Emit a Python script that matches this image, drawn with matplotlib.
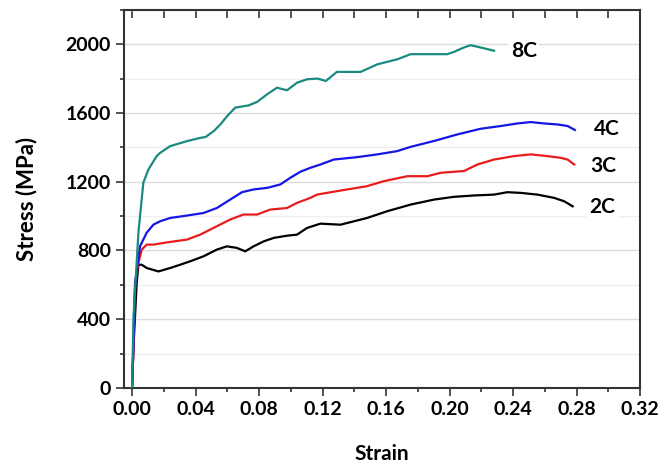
import matplotlib.pyplot as plt
from matplotlib.ticker import MultipleLocator

plt.rcParams['font.family'] = ['Lato', 'DejaVu Sans']
plt.rcParams['font.weight'] = 'bold'

# 8C
strain_8c = [0.0, 0.0009, 0.0040, 0.0071, 0.0103, 0.0155, 0.0177, 0.0240, 0.0345,
             0.0429, 0.0463, 0.0515, 0.0557, 0.0599, 0.0650, 0.0734, 0.0787, 0.0850,
             0.0913, 0.0976, 0.1039, 0.1102, 0.1170, 0.1220, 0.1290, 0.1440, 0.1545,
             0.1670, 0.1755, 0.1985, 0.2027, 0.2090, 0.2132, 0.2195, 0.2280]
stress_8c = [0, 416, 904, 1195, 1271, 1349, 1368, 1407, 1436,
             1455, 1460, 1495, 1534, 1582, 1631, 1644, 1664, 1708,
             1747, 1732, 1776, 1796, 1800, 1786, 1839, 1839, 1883,
             1912, 1942, 1942, 1955, 1981, 1994, 1981, 1962]

# 4C
strain_4c = [0.0, 0.0008, 0.0019, 0.0050, 0.0092, 0.0134, 0.0177, 0.0240, 0.0345,
             0.0450, 0.0534, 0.0618, 0.0692, 0.0765, 0.0850, 0.0934, 0.0997, 0.1060,
             0.1123, 0.1186, 0.1271, 0.1418, 0.1545, 0.1670, 0.1755, 0.1902, 0.2048,
             0.2195, 0.2322, 0.2427, 0.2511, 0.2595, 0.2680, 0.2743, 0.2789]
stress_4c = [0, 221, 612, 824, 903, 950, 970, 989, 1003,
             1018, 1047, 1096, 1139, 1155, 1164, 1184, 1223, 1258,
             1281, 1300, 1329, 1343, 1359, 1378, 1403, 1437, 1475,
             1508, 1524, 1539, 1547, 1539, 1533, 1524, 1501]

# 3C
strain_3c = [0.0, 0.0008, 0.0019, 0.0040, 0.0061, 0.0092, 0.0134, 0.0219, 0.0345,
             0.0429, 0.0534, 0.0618, 0.0702, 0.0787, 0.0871, 0.0976, 0.1039, 0.1123,
             0.1165, 0.1290, 0.1480, 0.1585, 0.1733, 0.1860, 0.1944, 0.2090, 0.2175,
             0.2280, 0.2406, 0.2511, 0.2616, 0.2700, 0.2743, 0.2785]
stress_3c = [0, 221, 612, 727, 805, 834, 834, 847, 863,
             892, 941, 980, 1009, 1009, 1038, 1047, 1077, 1106,
             1125, 1145, 1174, 1203, 1232, 1232, 1252, 1262, 1300,
             1329, 1349, 1359, 1349, 1339, 1329, 1300]

# 2C
strain_2c = [0.0, 0.0008, 0.0029, 0.0040, 0.0061, 0.0092, 0.0166, 0.0240, 0.0303,
             0.0366, 0.0450, 0.0534, 0.0597, 0.0660, 0.0713, 0.0765, 0.0829, 0.0892,
             0.0976, 0.1039, 0.1102, 0.1186, 0.1313, 0.1480, 0.1606, 0.1755, 0.1902,
             0.2027, 0.2154, 0.2280, 0.2364, 0.2448, 0.2553, 0.2658, 0.2722, 0.2775]
stress_2c = [0, 221, 610, 717, 717, 698, 678, 698, 717,
             737, 766, 805, 824, 815, 795, 824, 853, 873,
             886, 892, 931, 956, 950, 989, 1028, 1067, 1096,
             1112, 1120, 1125, 1139, 1135, 1125, 1106, 1086, 1057]

series = [
    (strain_2c, stress_2c, 'black', '2C', 0.296, 1050),
    (strain_3c, stress_3c, '#e81c1c', '3C', 0.297, 1289),
    (strain_4c, stress_4c, '#1515e6', '4C', 0.299, 1504),
    (strain_8c, stress_8c, '#1a8a80', '8C', 0.2467, 1959),
]

fig = plt.figure(figsize=(6.71, 4.68), dpi=100, facecolor='white')
ax = fig.add_axes([0.185, 0.171, 0.769, 0.808])

for x, y, c, name, lx, ly in series:
    ax.plot(x, y, color=c, lw=1.6, zorder=3)
    ax.text(lx, ly, name, fontsize=15, fontweight='bold', ha='center', va='center',
            bbox=dict(facecolor='white', edgecolor='none', pad=2), zorder=4)

ax.set_xlim(-0.005, 0.32)
ax.set_ylim(0, 2200)
ax.xaxis.set_minor_locator(MultipleLocator(0.02))
ax.yaxis.set_minor_locator(MultipleLocator(200))
ax.set_xticks([0.0, 0.04, 0.08, 0.12, 0.16, 0.20, 0.24, 0.28, 0.32])
ax.set_xticklabels(['0.00', '0.04', '0.08', '0.12', '0.16', '0.20', '0.24', '0.28', '0.32'],
                   fontweight='bold')
ax.set_yticks([0, 400, 800, 1200, 1600, 2000])
ax.set_yticklabels(['0', '400', '800', '1200', '1600', '2000'], fontweight='bold')

ax.grid(axis='y', which='major', color='#dcdcdc', lw=1.0, zorder=0)
ax.grid(axis='y', which='minor', color='#efefef', lw=1.0, zorder=0)

ax.tick_params(axis='both', which='major', labelsize=14, length=5.5, width=1.2,
               color='#333333', pad=4)
ax.tick_params(axis='both', which='minor', length=3, width=1.2, color='#333333')
ax.tick_params(axis='x', which='both', direction='out', top=False)
ax.tick_params(axis='y', which='both', direction='out', right=False)

# top ticks point inward
sec = ax.secondary_xaxis('top')
sec.xaxis.set_major_locator(MultipleLocator(0.04))
sec.xaxis.set_minor_locator(MultipleLocator(0.02))
sec.tick_params(which='major', direction='in', length=6, width=1.2, color='#333333', labeltop=False)
sec.tick_params(which='minor', direction='in', length=6, width=1.2, color='#333333')
sec.spines['top'].set_visible(False)

for s in ax.spines.values():
    s.set_linewidth(1.5)
    s.set_color('#333333')

ax.set_xlabel('Strain', fontsize=15, fontweight='bold')
ax.set_ylabel('Stress (MPa)', fontsize=16, fontweight='bold')
ax.xaxis.set_label_coords(0.5, -0.148)
ax.yaxis.set_label_coords(-0.168, 0.5)

fig.savefig('out.png', dpi=100)
